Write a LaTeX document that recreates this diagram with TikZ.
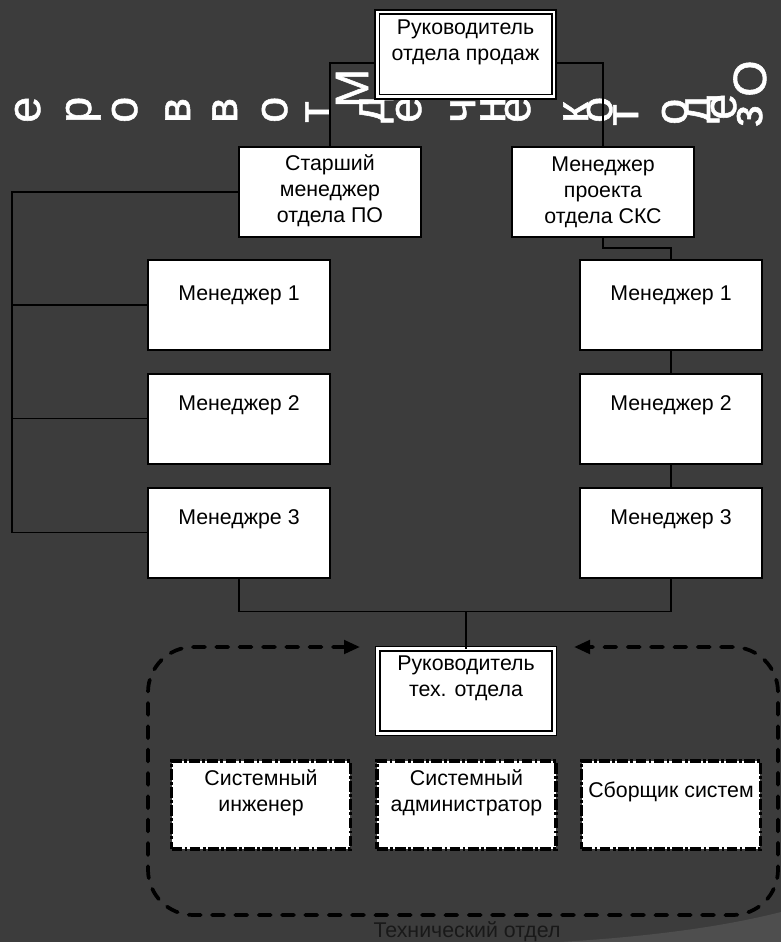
\documentclass[tikz,border=0pt]{standalone}
\usepackage{fontspec}
\setmainfont{Liberation Sans}
\newfontfamily\wafont[FakeBold=1.2]{Liberation Sans}
\usetikzlibrary{arrows.meta,calc}
\definecolor{bg}{HTML}{3C3C3C}
\definecolor{swoosh}{HTML}{4E4E4E}
\begin{document}
\begin{tikzpicture}[x=0.75pt,y=-0.75pt,
  box/.style={draw=black, line width=1.5pt, fill=white, inner sep=0pt, outer sep=0pt, minimum width=136.5pt, minimum height=67.5pt},
  dbox/.style={draw=black, fill=white, line width=1.3pt, double=white, double distance=2pt, inner sep=0pt, outer sep=0pt, minimum width=132.5pt, minimum height=63.5pt},
  ddbox/.style={draw=black, fill=white, line width=2.6pt, dash pattern=on 8pt off 1.8pt on 2pt off 1.8pt, inner sep=0pt, outer sep=0pt, minimum width=134pt, minimum height=66pt},
  txt/.style={font=\fontsize{16pt}{19.5pt}\selectfont, text=black, align=center, inner sep=0pt},
  conn/.style={draw=black, line width=1.2pt},
  region/.style={draw=black, line width=2.8pt, dash pattern=on 9pt off 8.5pt, line cap=round, rounded corners=34pt, arrows={Triangle[length=12pt,width=10pt]-Triangle[length=12pt,width=10pt]}},
  wa/.style={font=\wafont\fontsize{35pt}{40pt}\selectfont, text=white, rotate=90, anchor=base west, inner sep=0pt},
]
\fill[bg] (0,0) rectangle (781,942);
\useasboundingbox (0,0) rectangle (781,942);
\clip (0,0) rectangle (781,942);
\fill[swoosh] (560,942) .. controls (660,936) and (730,925) .. (781,912) -- (781,942) -- cycle;

% WordArt letters
\foreach \ch/\bx/\by [count=\i] in {е/40/123, р/91/123, о/137/123, в/190/123, в/237/123, о/287/123, т/330/123, М/368/108, д/384/123, е/421/123, ч/475/123, н/505/123, е/530/123, к/588/123, о/612/123, т/638/126, о/687/125, д/710/123, е/736/120, з/762/127, О/766/97}
  \node[wa] (w\i) at (\bx,\by) {\ch};

% boxes
\node[dbox] (top) at (465.5,54.5) {};
\node[txt] (topt) at (465.5,42.5) {Руководитель\\отдела продаж};

\node[box] (sen) at (330,192) {};
\node[txt] (sent) at (330,191) {Старший\\менеджер\\отдела ПО};

\node[box] (proj) at (603,192) {};
\node[txt] (projt) at (603,192) {Менеджер\\проекта\\отдела СКС};

\node[box] (L1) at (239,305) {};
\node[txt] (L1t) at (239,295) {Менеджер 1};
\node[box] (L2) at (239,418.5) {};
\node[txt] (L2t) at (239,405) {Менеджер 2};
\node[box] (L3) at (239,532.5) {};
\node[txt] (L3t) at (239,519) {Менеджре 3};

\node[box] (R1) at (671,305) {};
\node[txt] (R1t) at (671,295) {Менеджер 1};
\node[box] (R2) at (671,418.5) {};
\node[txt] (R2t) at (671,405) {Менеджер 2};
\node[box] (R3) at (671,532.5) {};
\node[txt] (R3t) at (671,519) {Менеджер 3};

\node[dbox] (tech) at (466,691) {};
\node[txt] (techt) at (466,678) {Руководитель\\тех. отдела};

\node[ddbox] (s1) at (261,805) {};
\node[txt] (s1t) at (261,793) {Системный\\инженер};
\node[ddbox] (s2) at (466.5,805) {};
\node[txt] (s2t) at (466.5,793) {Системный\\администратор};
\node[ddbox] (s3) at (671,805) {};
\node[txt] (s3t) at (671,792) {Сборщик систем};

% connectors
\draw[conn] ($(top.west)+(-2,8.5)$) -| (sen.north);
\draw[conn] ($(top.east)+(2,8.5)$) -| (proj.north);

\coordinate (bus) at (12,192);
\draw[conn] (sen.west) -- (bus) |- (L3.west);
\draw[conn] (bus |- L1.west) -- (L1.west);
\draw[conn] (bus |- L2.west) -- (L2.west);

\draw[conn] (proj.south) -- ++(0,11) -| (R1.north);
\draw[conn] (R1.south) -- (R2.north);
\draw[conn] (R2.south) -- (R3.north);

\coordinate (jn) at ($(L3.south)+(0,34)$);
\draw[conn] (L3.south) -- (jn) -| (R3.south);
\draw[conn] (tech.north) -- (tech.north |- jn);

% technical department region
\coordinate (aL) at (360,647);
\coordinate (aR) at (574,647);
\coordinate (c1) at (148,647);
\coordinate (c2) at (148,915);
\coordinate (c3) at (778,915);
\coordinate (c4) at (778,647);
\draw[region] (aL) -- (c1) -- (c2) -- (c3) -- (c4) -- (aR);

\node[font=\fontsize{16pt}{18pt}\selectfont, text=black!90, anchor=base, inner sep=0pt] (lbl) at (467,937) {Технический отдел};
\end{tikzpicture}
\end{document}
